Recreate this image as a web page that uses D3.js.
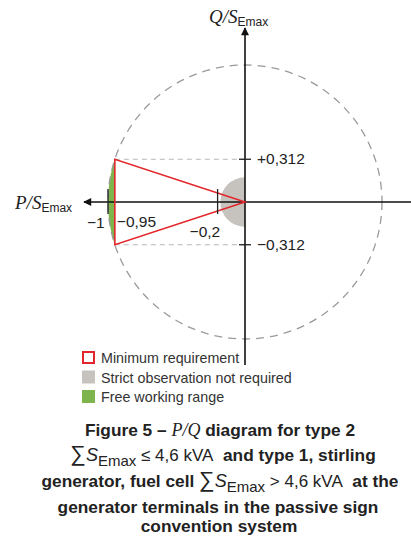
<!DOCTYPE html>
<html>
<head>
<meta charset="utf-8">
<script src="https://cdn.jsdelivr.net/npm/d3@7"></script>
<style>
  body { margin: 0; background: #fff; }
  text { font-family: "Liberation Sans", Arial, sans-serif; fill: #222; white-space: pre; }
</style>
</head>
<body>
<div id="chart"></div>
<script>
// Chart data
const pTicks = [-1, -0.95, -0.2];
const pTickLabels = ['\u22121', '\u22120,95', '\u22120,2'];
const qLimits = [0.312, -0.312];
const qTickLabels = ['+0,312', '\u22120,312'];
const triangle = [[0, 0], [-0.95, 0.312], [-0.95, -0.312]];
const grayRadius = 0.18;
const circleRadius = 1;
const legendLabels = ['Minimum requirement', 'Strict observation not required', 'Free working range'];
const legendColors = ['none', '#c6c3bf', '#7db44c'];

let svgWidth = 411;
let svgHeight = 540;
let cx = 245, cy = 202, r = 137;

let svg = d3.select('#chart')
  .append('svg')
  .attr('width', svgWidth)
  .attr('height', svgHeight);

// scales: P on x, Q on y
let x = d3.scaleLinear().domain([-1, 1]).range([cx - r, cx + r]);
let y = d3.scaleLinear().domain([-1, 1]).range([cy + r, cy - r]);

// gray half disc (left half)
let grayArc = d3.arc()
  .innerRadius(0)
  .outerRadius(x(grayRadius) - x(0))
  .startAngle(Math.PI)
  .endAngle(2 * Math.PI);
svg.append('path')
  .attr('d', grayArc())
  .attr('transform', 'translate(' + x(0) + ',' + y(0) + ')')
  .style('fill', legendColors[1]);

// green lens between circle and triangle edge
let qs = d3.range(qLimits[1], qLimits[0] + 0.0001, 0.312 / 20);
let greenPts = qs.map((q) => [-Math.sqrt(circleRadius * circleRadius - q * q), q]);
greenPts = greenPts.concat([[triangle[1][0], qLimits[0]], [triangle[2][0], qLimits[1]]]);
let line = d3.line().x((d) => x(d[0])).y((d) => y(d[1]));
svg.append('path')
  .attr('d', line(greenPts) + 'Z')
  .style('fill', legendColors[2]);

// dashed unit circle
svg.append('circle')
  .attr('cx', x(0)).attr('cy', y(0))
  .attr('r', x(circleRadius) - x(0))
  .style('fill', 'none')
  .style('stroke', '#9a9a9a')
  .style('stroke-width', 1.3)
  .style('stroke-dasharray', '8,6');

// dashed helper lines at Q limits
qLimits.forEach((q) => {
  svg.append('line')
    .attr('x1', x(triangle[1][0])).attr('x2', x(0))
    .attr('y1', y(q)).attr('y2', y(q))
    .style('stroke', '#b8b8b8')
    .style('stroke-width', 1)
    .style('stroke-dasharray', '5,4');
});

// arrow marker
svg.append('defs').append('marker')
  .attr('id', 'arrow')
  .attr('viewBox', '0 0 10 10')
  .attr('refX', 9).attr('refY', 5)
  .attr('markerWidth', 10).attr('markerHeight', 8)
  .attr('markerUnits', 'userSpaceOnUse')
  .attr('orient', 'auto')
  .append('path')
  .attr('d', 'M0,0L10,5L0,10Z')
  .style('fill', '#111');

// axes
svg.append('line')
  .attr('x1', svgWidth).attr('y1', y(0))
  .attr('x2', 84).attr('y2', y(0))
  .style('stroke', '#111').style('stroke-width', 1.6)
  .attr('marker-end', 'url(#arrow)');
svg.append('line')
  .attr('x1', x(0)).attr('y1', 365)
  .attr('x2', x(0)).attr('y2', 28)
  .style('stroke', '#111').style('stroke-width', 1.6)
  .attr('marker-end', 'url(#arrow)');

// red triangle (minimum requirement)
svg.append('path')
  .attr('d', line(triangle) + 'Z')
  .style('fill', 'none')
  .style('stroke', '#e3262b')
  .style('stroke-width', 1.6);

// P ticks (-1 and -0.2 drawn as marks)
[pTicks[0], pTicks[2]].forEach((p) => {
  svg.append('line')
    .attr('x1', x(p)).attr('x2', x(p))
    .attr('y1', y(0) - 13).attr('y2', y(0) + 12)
    .style('stroke', '#222').style('stroke-width', 1.3);
});

// Q ticks
qLimits.forEach((q) => {
  svg.append('line')
    .attr('x1', x(0) - 6).attr('x2', x(0) + 6)
    .attr('y1', y(q)).attr('y2', y(q))
    .style('stroke', '#222').style('stroke-width', 1.3);
});

// tick labels
let pLabelPos = [[-21, 26], [2, 25], [-28, 35]];
pTicks.forEach((p, i) => {
  svg.append('text')
    .attr('x', x(p) + pLabelPos[i][0])
    .attr('y', y(0) + pLabelPos[i][1])
    .style('font-size', '15.5px')
    .text(pTickLabels[i]);
});
qLimits.forEach((q, i) => {
  svg.append('text')
    .attr('x', x(0) + 12)
    .attr('y', y(q) + 5)
    .style('font-size', '15.5px')
    .text(qTickLabels[i]);
});

// axis titles
let pTitle = svg.append('text').attr('x', 15).attr('y', 209);
pTitle.append('tspan').text('P/S')
  .style('font-family', '"Liberation Serif", serif').style('font-style', 'italic').style('font-size', '19px');
pTitle.append('tspan').text('Emax').attr('dy', 3).style('font-size', '12px');

let qTitle = svg.append('text').attr('x', 209).attr('y', 23);
qTitle.append('tspan').text('Q/S')
  .style('font-family', '"Liberation Serif", serif').style('font-style', 'italic').style('font-size', '19px');
qTitle.append('tspan').text('Emax').attr('dy', 3).style('font-size', '12px');

// legend
let legend = svg.append('g').attr('transform', 'translate(82,351)');
legendLabels.forEach((label, i) => {
  let g = legend.append('g').attr('transform', 'translate(0,' + (i * 19.5) + ')');
  g.append('rect')
    .attr('x', i === 0 ? 1 : 0).attr('y', i === 0 ? 1 : 0)
    .attr('width', i === 0 ? 11 : 13).attr('height', i === 0 ? 11 : 13)
    .style('fill', i === 0 ? '#fff' : legendColors[i])
    .style('stroke', i === 0 ? '#e3262b' : 'none')
    .style('stroke-width', 2);
  g.append('text')
    .attr('x', 19).attr('y', 12)
    .style('font-size', '14.3px')
    .style('fill', '#333')
    .text(label);
});

// caption
let capX = 220;
let bold = (t, s) => t.append('tspan').text(s).style('font-weight', 'bold').style('font-size', '17.3px');
let plain = (t, s) => t.append('tspan').text(s).style('font-size', '17px');
let sumS = (t) => {
  t.append('tspan').text('\u2211').style('font-size', '22px');
  t.append('tspan').text('S').style('font-style', 'italic').style('font-size', '18px');
  t.append('tspan').text('Emax').attr('dy', 5).style('font-size', '15px');
};

let c1 = svg.append('text').attr('x', capX).attr('y', 436).attr('text-anchor', 'middle');
bold(c1, 'Figure 5 \u2013 ');
c1.append('tspan').text('P/Q').style('font-family', '"Liberation Serif", serif')
  .style('font-style', 'italic').style('font-size', '18px');
bold(c1, ' diagram for type 2');

let c2 = svg.append('text').attr('x', capX + 3).attr('y', 461).attr('text-anchor', 'middle');
sumS(c2);
plain(c2, ' \u2264 4,6 kVA').attr('dy', -5);
bold(c2, '  and type 1, stirling');

let c3 = svg.append('text').attr('x', capX).attr('y', 487).attr('text-anchor', 'middle');
bold(c3, 'generator, fuel cell ');
sumS(c3);
plain(c3, ' > 4,6 kVA').attr('dy', -5);
bold(c3, '  at the');

let c4 = svg.append('text').attr('x', capX - 2).attr('y', 513).attr('text-anchor', 'middle');
bold(c4, 'generator terminals in the passive sign');

let c5 = svg.append('text').attr('x', capX - 1).attr('y', 532).attr('text-anchor', 'middle');
bold(c5, 'convention system');
</script>
</body>
</html>
